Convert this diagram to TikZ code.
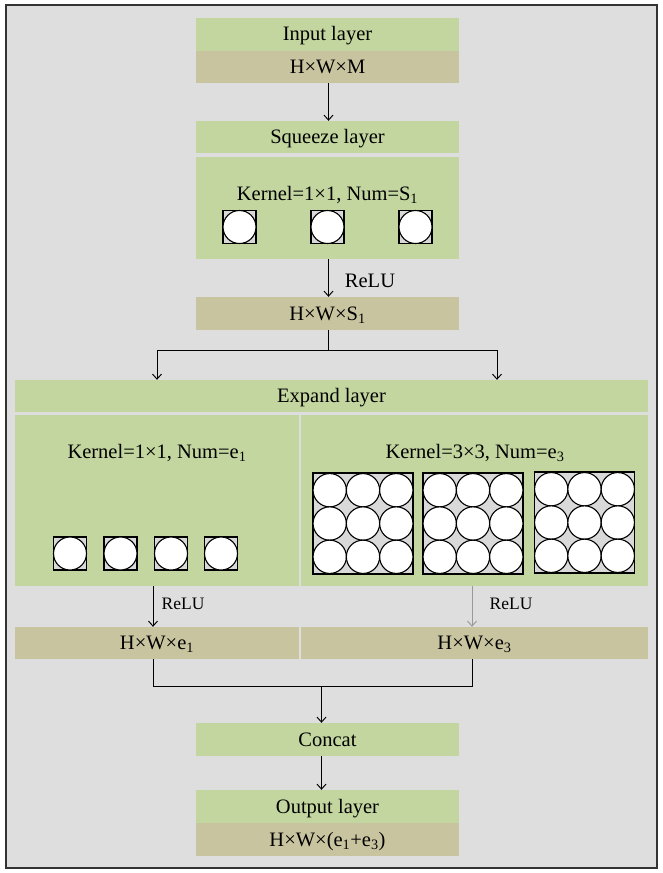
\documentclass[tikz,border=0pt]{standalone}
\usepackage{fontspec}
\setmainfont{Liberation Serif}
\usetikzlibrary{arrows.meta}
\definecolor{bggray}{HTML}{DEDEDE}
\definecolor{lgreen}{HTML}{C4D69F}
\definecolor{khaki}{HTML}{C9C4A0}
\definecolor{cellgray}{HTML}{D9D9D9}
\definecolor{framecol}{HTML}{333333}
\begin{document}
\begin{tikzpicture}[x=1pt,y=-1pt,
  box/.style={draw=none, inner sep=0pt, minimum width=263, minimum height=33, text height=18pt, text depth=5pt, font=\fontsize{20.5}{24}\selectfont},
  gbox/.style={box, fill=lgreen},
  kbox/.style={box, fill=khaki},
  txt/.style={inner sep=0pt, text height=18pt, text depth=5pt, font=\fontsize{20.5}{24}\selectfont},
  stxt/.style={inner sep=0pt, text height=15pt, text depth=4pt, font=\fontsize{17.5}{20}\selectfont},
  arr/.style={line width=0.95pt, -{Straight Barb[length=5pt,width=9pt]}},
  ln/.style={line width=0.95pt},
  cell/.style={draw, line width=1.3pt, fill=cellgray, minimum size=33, inner sep=0pt},
  dot/.style={draw, circle, line width=1.1pt, fill=white, minimum size=33, inner sep=0pt},
  gridbox/.style={draw, line width=1.4pt, fill=cellgray, minimum width=100, minimum height=101, inner sep=0pt}
]
\fill[white] (0,0) rectangle (662,873);
\useasboundingbox (0,0) rectangle (662,873);
\draw[line width=1.5pt, draw=framecol, fill=bggray] (6,5) rectangle (657,868);

% top column
\node[gbox] (inp) at (327.5,34) {Input layer};
\node[kbox, minimum height=32] (inpd) at (327.5,67) {H×W×M};
\node[gbox, minimum height=32] (sq) at (327.5,137) {Squeeze layer};
\node[gbox, minimum height=102] (sqk) at (327.5,208) {};
\node[txt] (sqkt) at (327.5,193.5) {Kernel=1×1, Num=S\textsubscript{1}};
\foreach \n/\x in {1/239.5,2/327.5,3/415.5}{
  \node[cell] (s\n) at (\x,227) {};
  \node[dot] (s\n c) at (s\n) {};
}
\node[kbox] (sqd) at (327.5,313.5) {H×W×S\textsubscript{1}};

% expand layer
\node[gbox, minimum width=633, minimum height=32] (exp) at (331.5,396) {Expand layer};
\node[gbox, minimum width=284, minimum height=171] (e1k) at (157,500.5) {};
\node[gbox, minimum width=347, minimum height=171] (e3k) at (474.5,500.5) {};
\node[txt] (e1kt) at (157,451.5) {Kernel=1×1, Num=e\textsubscript{1}};
\node[txt] (e3kt) at (475,451.5) {Kernel=3×3, Num=e\textsubscript{3}};
\foreach \n/\x in {1/70,2/120.5,3/171,4/221}{
  \node[cell] (c\n) at (\x,553.5) {};
  \node[dot] (c\n c) at (c\n) {};
}
\foreach \n/\x/\y in {1/363/523.5,2/473/523.5,3/584.5/522.5}{
  \node[gridbox] (g\n) at (\x,\y) {};
  \foreach \i in {-1,0,1}{
    \foreach \j in {-1,0,1}{
      \node[dot, minimum size=33.3] at ([shift={(\i*33.3,\j*33.3)}]g\n.center) {};
    }
  }
}
\node[kbox, minimum width=284, minimum height=32] (e1d) at (157,643) {H×W×e\textsubscript{1}};
\node[kbox, minimum width=347, minimum height=32] (e3d) at (474.5,643) {H×W×e\textsubscript{3}};

% bottom
\node[gbox] (concat) at (327.5,739.5) {Concat};
\node[gbox] (out) at (327.5,806.5) {Output layer};
\node[kbox] (outd) at (327.5,839.5) {H×W×(e\textsubscript{1}+e\textsubscript{3})};

% labels
\node[txt] (r1) at (370,280.5) {ReLU};
\node[stxt] (r2) at (183,603.5) {ReLU};
\node[stxt] (r3) at (511,603.5) {ReLU};

% connectors
\coordinate (ct) at (328.5,0);
\coordinate (cl) at (153,0);
\coordinate (cr) at (472,0);
\coordinate (cm) at (321.5,686);
\coordinate (jm) at (328.5,350);
\coordinate (jl) at (157,350);
\coordinate (jr) at (497,350);
\draw[arr] (inpd.south -| ct) -- (sq.north -| ct);
\draw[arr] (sqk.south -| ct) -- (sqd.north -| ct);
\draw[ln] (sqd.south -| ct) -- (jm);
\draw[ln] (jl) -- (jr);
\draw[arr] (jl) -- (jl |- exp.north);
\draw[arr] (jr) -- (jr |- exp.north);
\draw[arr] (e1k.south -| cl) -- (e1d.north -| cl);
\draw[arr, draw=gray!80] (e3k.south -| cr) -- (e3d.north -| cr);
\draw[ln] (e1d.south -| cl) -- (cl |- cm) -- (cr |- cm) -- (e3d.south -| cr);
\draw[arr] (cm) -- (concat.north -| cm);
\draw[arr] (concat.south -| cm) -- (out.north -| cm);
\end{tikzpicture}
\end{document}
